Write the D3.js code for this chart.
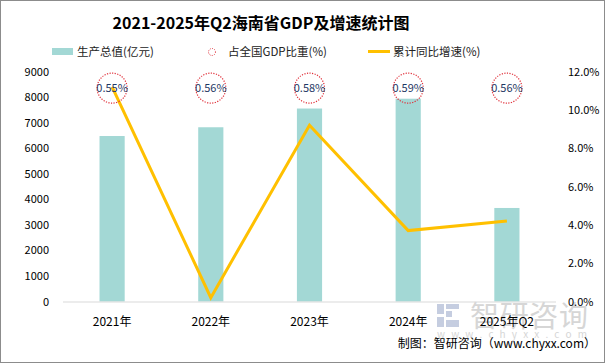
<!DOCTYPE html>
<html>
<head>
<meta charset="utf-8">
<script src="https://cdn.jsdelivr.net/npm/d3@7"></script>
<style>
  body { margin: 0; background: #fff; }
  svg { font-family: "Microsoft YaHei", "Noto Sans CJK SC", "DejaVu Sans", sans-serif; }
</style>
</head>
<body>
<svg id="chart" width="605" height="363"></svg>
<script>
// data
const years = ["2021年", "2022年", "2023年", "2024年", "2025年Q2"];
const gdp = [6475.2, 6818.2, 7551.2, 7935.6, 3660];        // 亿元
const share = [0.55, 0.56, 0.58, 0.59, 0.56];              // %
const growth = [11.2, 0.2, 9.2, 3.7, 4.2];                 // %
const leftTicks = [0, 1000, 2000, 3000, 4000, 5000, 6000, 7000, 8000, 9000];
const rightTicks = [0, 2, 4, 6, 8, 10, 12];
const shareRow = 8350; // where the share bubbles sit, in left-axis units

const width = 605, height = 363;
const margin = {top: 71.5, right: 49, bottom: 61.5, left: 63};

const svg = d3.select("#chart");

const x = d3.scaleBand()
    .domain(years)
    .range([margin.left, width - margin.right])
    .paddingInner(0.745)
    .paddingOuter(0.37);

const yLeft = d3.scaleLinear()
    .domain([0, 9000])
    .range([height - margin.bottom, margin.top]);

const yRight = d3.scaleLinear()
    .domain([0, 12])
    .range([height - margin.bottom, margin.top]);

const cx = d => x(d) + x.bandwidth() / 2;

// frame
svg.append("rect")
    .attr("x", 0.5).attr("y", 0.5)
    .attr("width", width - 1).attr("height", height - 1)
    .attr("fill", "#fff")
    .attr("stroke", "#8c8c8c");

// watermark
const wm = svg.append("g").attr("fill", "#d4d7dc");
wm.append("rect").attr("x", 437).attr("y", 304).attr("width", 7).attr("height", 10).attr("fill", "#c5cde0");
wm.append("rect").attr("x", 446).attr("y", 304).attr("width", 13).attr("height", 5).attr("fill", "#c5cde0");
wm.append("rect").attr("x", 446).attr("y", 311).attr("width", 6).attr("height", 6).attr("fill", "#c5cde0");
wm.append("rect").attr("x", 437).attr("y", 317).attr("width", 7).attr("height", 10).attr("fill", "#c5cde0");
wm.append("rect").attr("x", 446).attr("y", 320).attr("width", 13).attr("height", 7).attr("fill", "#c5cde0");
wm.append("text")
    .attr("x", 470).attr("y", 327)
    .attr("font-size", 29)
    .attr("fill", "#d6d6d6")
    .attr("textLength", 118)
    .text("智研咨询");
wm.append("text")
    .attr("x", 437).attr("y", 338)
    .attr("font-size", 10)
    .attr("fill", "#d6d6d6")
    .attr("textLength", 150)
    .text("w w w . c h y x x . c o m");

// title
svg.append("text")
    .attr("x", 261).attr("y", 29)
    .attr("text-anchor", "middle")
    .attr("font-size", 16)
    .attr("font-weight", "bold")
    .attr("fill", "#000")
    .text("2021-2025年Q2海南省GDP及增速统计图");

// legend
const lg = svg.append("g").attr("font-size", 11.5).attr("fill", "#222");
lg.append("rect").attr("x", 52).attr("y", 48).attr("width", 21).attr("height", 7).attr("fill", "#a3d8d5");
lg.append("text").attr("x", 77).attr("y", 56).text("生产总值(亿元)");
lg.append("circle").attr("cx", 212).attr("cy", 52).attr("r", 3.5)
    .attr("fill", "none").attr("stroke", "#e0303a").attr("stroke-width", 1)
    .attr("stroke-dasharray", "1,1.3");
lg.append("text").attr("x", 228).attr("y", 56).text("占全国GDP比重(%)");
lg.append("line").attr("x1", 368).attr("x2", 390).attr("y1", 51.5).attr("y2", 51.5)
    .attr("stroke", "#ffc000").attr("stroke-width", 3);
lg.append("text").attr("x", 393).attr("y", 56).text("累计同比增速(%)");

// left axis labels
svg.append("g")
    .selectAll("text")
    .data(leftTicks)
    .join("text")
    .attr("x", 49)
    .attr("y", d => yLeft(d) + 4)
    .attr("text-anchor", "end")
    .attr("font-size", 11)
    .attr("fill", "#000")
    .text(d => d);

// right axis labels
svg.append("g")
    .selectAll("text")
    .data(rightTicks)
    .join("text")
    .attr("x", 568)
    .attr("y", d => yRight(d) + 4)
    .attr("font-size", 11)
    .attr("fill", "#000")
    .text(d => d.toFixed(1) + "%");

// bars
svg.append("g")
    .selectAll("rect")
    .data(years)
    .join("rect")
    .attr("x", d => x(d))
    .attr("y", (d, i) => yLeft(gdp[i]))
    .attr("width", x.bandwidth())
    .attr("height", (d, i) => yLeft(0) - yLeft(gdp[i]))
    .attr("fill", "#a3d8d5");

// x axis
svg.append("line")
    .attr("x1", margin.left).attr("x2", width - margin.right)
    .attr("y1", yLeft(0) + 0.5).attr("y2", yLeft(0) + 0.5)
    .attr("stroke", "#d9d9d9");

svg.append("g")
    .selectAll("text")
    .data(years)
    .join("text")
    .attr("x", d => cx(d))
    .attr("y", 326)
    .attr("text-anchor", "middle")
    .attr("font-size", 12)
    .attr("fill", "#000")
    .text(d => d);

// growth line
const line = d3.line()
    .x((d, i) => cx(years[i]))
    .y(d => yRight(d));

svg.append("path")
    .datum(growth)
    .attr("d", line)
    .attr("fill", "none")
    .attr("stroke", "#ffc000")
    .attr("stroke-width", 3)
    .attr("stroke-linejoin", "miter");

// share bubbles
const bub = svg.append("g")
    .selectAll("g")
    .data(years)
    .join("g")
    .attr("transform", d => `translate(${cx(d)},${yLeft(shareRow)})`);

bub.append("circle")
    .attr("r", 15)
    .attr("fill", "none")
    .attr("stroke", "#e0303a")
    .attr("stroke-width", 1.2)
    .attr("stroke-dasharray", "1.2,1.4");

bub.append("text")
    .attr("y", 4)
    .attr("text-anchor", "middle")
    .attr("font-size", 11)
    .attr("fill", "#1f3864")
    .text((d, i) => share[i].toFixed(2) + "%");

// source
svg.append("text")
    .attr("x", 596).attr("y", 348)
    .attr("text-anchor", "end")
    .attr("font-size", 12)
    .attr("fill", "#000")
    .text("制图：智研咨询（www.chyxx.com）");
</script>
</body>
</html>
